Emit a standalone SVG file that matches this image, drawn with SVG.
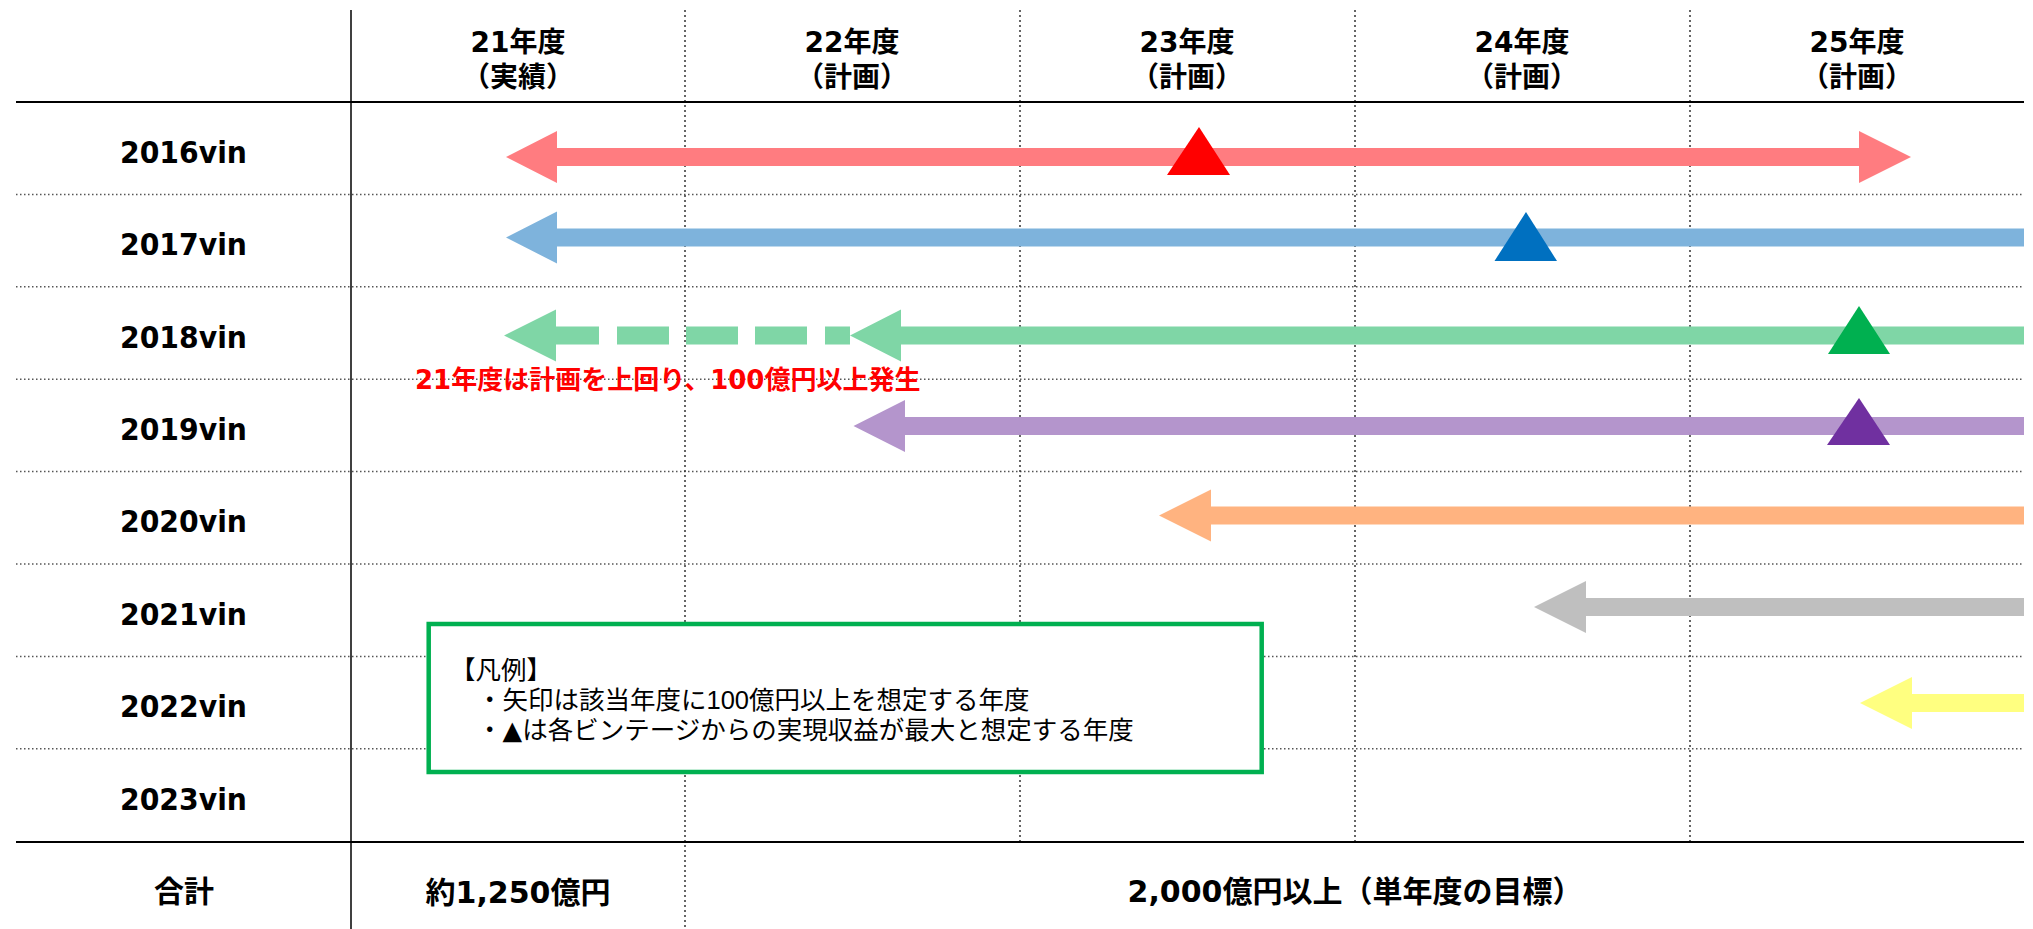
<svg xmlns="http://www.w3.org/2000/svg" width="2033" height="929" viewBox="0 0 2033 929">
<style>
.hd{font-family:"DejaVu Sans","Noto Sans CJK JP",sans-serif;font-weight:bold;font-size:28px;fill:#000;text-anchor:middle}
.vin{font-family:"DejaVu Sans","Noto Sans CJK JP",sans-serif;font-weight:bold;font-size:31px;fill:#000;text-anchor:middle}
.tot{font-family:"DejaVu Sans","Noto Sans CJK JP",sans-serif;font-weight:bold;font-size:30px;fill:#000;text-anchor:middle}
.note{font-family:"DejaVu Sans","Noto Sans CJK JP",sans-serif;font-weight:bold;font-size:26px;fill:#FF0000}
.leg{font-family:"Liberation Sans","Noto Sans CJK JP",sans-serif;font-size:25.5px;fill:#000}
.tri{font-family:"DejaVu Sans",sans-serif}
.solid{stroke:#000;stroke-width:2;fill:none}
.vsolid{stroke:#000;stroke-width:1.5;fill:none}
.hdot{stroke:#555;stroke-width:1.5;stroke-dasharray:1.5 2.5;fill:none}
.vdot{stroke:#333;stroke-width:1.5;stroke-dasharray:2 3;fill:none}
</style>
<rect width="2033" height="929" fill="#fff"/>
<g id="grid">
<line class="hdot" x1="16" y1="194.4" x2="2024" y2="194.4"/>
<line class="hdot" x1="16" y1="286.8" x2="2024" y2="286.8"/>
<line class="hdot" x1="16" y1="379.2" x2="2024" y2="379.2"/>
<line class="hdot" x1="16" y1="471.6" x2="2024" y2="471.6"/>
<line class="hdot" x1="16" y1="564" x2="2024" y2="564"/>
<line class="hdot" x1="16" y1="656.4" x2="2024" y2="656.4"/>
<line class="hdot" x1="16" y1="748.8" x2="2024" y2="748.8"/>
<line class="vdot" x1="685" y1="10" x2="685" y2="929"/>
<line class="vdot" x1="1020" y1="10" x2="1020" y2="842"/>
<line class="vdot" x1="1355" y1="10" x2="1355" y2="842"/>
<line class="vdot" x1="1690" y1="10" x2="1690" y2="842"/>
<line class="solid" x1="16" y1="102" x2="2024" y2="102"/>
<line class="solid" x1="16" y1="842" x2="2024" y2="842"/>
<line class="vsolid" x1="351" y1="10" x2="351" y2="929"/>
</g>
<g id="header">
<g id="h21"><text class="hd" x="518" y="52">21年度</text><text class="hd" x="518" y="87">（実績）</text></g>
<g id="h22"><text class="hd" x="852" y="52">22年度</text><text class="hd" x="852" y="87">（計画）</text></g>
<g id="h23"><text class="hd" x="1187" y="52">23年度</text><text class="hd" x="1187" y="87">（計画）</text></g>
<g id="h24"><text class="hd" x="1522" y="52">24年度</text><text class="hd" x="1522" y="87">（計画）</text></g>
<g id="h25"><text class="hd" x="1857" y="52">25年度</text><text class="hd" x="1857" y="87">（計画）</text></g>
</g>
<g id="rows">
<g id="r2016"><text class="vin" x="183.5" y="162.7" textLength="127" lengthAdjust="spacingAndGlyphs">2016vin</text></g>
<g id="r2017"><text class="vin" x="183.5" y="255.1" textLength="127" lengthAdjust="spacingAndGlyphs">2017vin</text></g>
<g id="r2018"><text class="vin" x="183.5" y="347.5" textLength="127" lengthAdjust="spacingAndGlyphs">2018vin</text></g>
<g id="r2019"><text class="vin" x="183.5" y="439.9" textLength="127" lengthAdjust="spacingAndGlyphs">2019vin</text></g>
<g id="r2020"><text class="vin" x="183.5" y="532.3" textLength="127" lengthAdjust="spacingAndGlyphs">2020vin</text></g>
<g id="r2021"><text class="vin" x="183.5" y="624.7" textLength="127" lengthAdjust="spacingAndGlyphs">2021vin</text></g>
<g id="r2022"><text class="vin" x="183.5" y="717.1" textLength="127" lengthAdjust="spacingAndGlyphs">2022vin</text></g>
<g id="r2023"><text class="vin" x="183.5" y="809.5" textLength="127" lengthAdjust="spacingAndGlyphs">2023vin</text></g>
<g id="rtotal"><text class="tot" x="184" y="902">合計</text></g>
</g>
<g id="totals">
<g id="t21"><text class="tot" x="518" y="903">約1,250億円</text></g>
<g id="t22_25"><text class="tot" x="1355" y="902">2,000億円以上（単年度の目標）</text></g>
</g>
<g id="arrows">
<path fill="#FF7C80" d="M506,157 L557,131 L557,148 L1859,148 L1859,131 L1911,157 L1859,183 L1859,166 L557,166 L557,183 Z"/>
<path fill="#7EB3DC" d="M506,237.5 L557,211.5 L557,228.5 L2024,228.5 L2024,246.5 L557,246.5 L557,263.5 Z"/>
<g fill="#7FD6A6">
<path d="M504,335.5 L556,309.5 L556,326.5 L599,326.5 L599,344.5 L556,344.5 L556,361.5 Z"/>
<rect x="617" y="326.5" width="52" height="18"/>
<rect x="686" y="326.5" width="52" height="18"/>
<rect x="755" y="326.5" width="52" height="18"/>
<rect x="825" y="326.5" width="25" height="18"/>
<path d="M850,335.5 L901,309.5 L901,326.5 L2024,326.5 L2024,344.5 L901,344.5 L901,361.5 Z"/>
</g>
<path fill="#B495CC" d="M853.5,426 L905,400 L905,417 L2024,417 L2024,435 L905,435 L905,452 Z"/>
<path fill="#FFB380" d="M1159,515.5 L1211,489.5 L1211,506.5 L2024,506.5 L2024,524.5 L1211,524.5 L1211,541.5 Z"/>
<path fill="#BFBFBF" d="M1534,607 L1586,581 L1586,598 L2024,598 L2024,616 L1586,616 L1586,633 Z"/>
<path fill="#FFFF80" d="M1860,703 L1912,677 L1912,694 L2024,694 L2024,712 L1912,712 L1912,729 Z"/>
</g>
<g id="peaks">
<polygon fill="#FF0000" points="1199,127 1230,175 1167,175"/>
<polygon fill="#0070C0" points="1526,212 1557,261 1494.5,261"/>
<polygon fill="#00B050" points="1859,306 1890,354 1828,354"/>
<polygon fill="#7030A0" points="1859,398 1890,445 1827,445"/>
</g>
<g id="note"><text class="note" x="415" y="389">21年度は計画を上回り、100億円以上発生</text></g>
<g id="legend">
<rect x="428.7" y="624" width="833" height="148" fill="#fff" stroke="#00B050" stroke-width="4.5"/>
<text class="leg" x="450" y="679">【凡例】</text>
<text class="leg" x="477" y="709">・矢印は該当年度に100億円以上を想定する年度</text>
<text class="leg" x="477" y="739">・<tspan class="tri">▲</tspan>は各ビンテージからの実現収益が最大と想定する年度</text>
</g>
</svg>
